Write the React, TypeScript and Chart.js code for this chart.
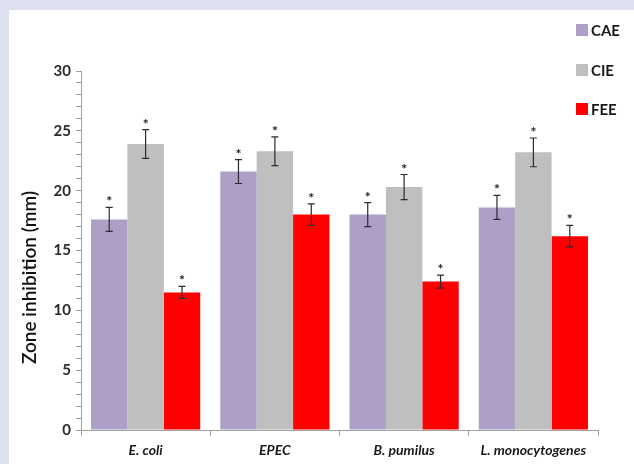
import React, { useEffect, useRef } from "react";
import { Chart, registerables } from "chart.js";

Chart.register(...registerables);

const categories = ["E. coli", "EPEC", "B. pumilus", "L. monocytogenes"];
const seriesNames = ["CAE", "CIE", "FEE"];
const caeValues = [17.6, 21.6, 18.0, 18.6];
const cieValues = [23.9, 23.3, 20.3, 23.2];
const feeValues = [11.5, 18.0, 12.4, 16.2];
const caeErrors = [1.0, 1.0, 1.0, 1.0];
const cieErrors = [1.2, 1.2, 1.05, 1.2];
const feeErrors = [0.5, 0.9, 0.55, 0.9];
const seriesColors = ["#ae9fc7", "#bfbfbf", "#ff0000"];
const yTicksMajor = [0, 5, 10, 15, 20, 25, 30];
const yTitle = "Zone inhibition (mm)";
const FONT = "Lato, 'Open Sans', sans-serif";

const errorsBySeries = [caeErrors, cieErrors, feeErrors];

const errorBarPlugin = {
  id: "errorBars",
  afterDatasetsDraw(chart: any) {
    const ctx = chart.ctx;
    const yScale = chart.scales.y;
    chart.data.datasets.forEach((ds: any, di: number) => {
      const meta = chart.getDatasetMeta(di);
      meta.data.forEach((bar: any, i: number) => {
        const v = ds.data[i];
        const e = errorsBySeries[di][i];
        const x = bar.x;
        const yTop = yScale.getPixelForValue(v + e);
        const yBot = yScale.getPixelForValue(v - e);
        ctx.save();
        ctx.strokeStyle = "#2e2a33";
        ctx.lineWidth = 1.2;
        ctx.beginPath();
        ctx.moveTo(x, yTop);
        ctx.lineTo(x, yBot);
        ctx.moveTo(x - 3.5, yTop);
        ctx.lineTo(x + 3.5, yTop);
        ctx.moveTo(x - 3.5, yBot);
        ctx.lineTo(x + 3.5, yBot);
        ctx.stroke();
        ctx.fillStyle = "#222";
        ctx.font = `bold 14px ${FONT}`;
        ctx.textAlign = "center";
        ctx.textBaseline = "alphabetic";
        ctx.fillText("*", x, yTop - 1);
        ctx.restore();
      });
    });
  },
};

const legendAndTitlePlugin = {
  id: "customLegendTitle",
  afterDraw(chart: any) {
    const ctx = chart.ctx;
    const area = chart.chartArea;
    ctx.save();
    const lx = chart.width - 58;
    const ys = [30, 70, 109];
    chart.data.datasets.forEach((ds: any, di: number) => {
      const cy = ys[di];
      ctx.fillStyle = ds.backgroundColor;
      ctx.fillRect(lx, cy - 6, 12, 12);
      ctx.fillStyle = "#1a1a1a";
      ctx.font = `bold 15px ${FONT}`;
      ctx.textAlign = "left";
      ctx.textBaseline = "middle";
      ctx.fillText(ds.label, lx + 15, cy + 1);
    });
    ctx.translate(30, (area.top + area.bottom) / 2 + 27);
    ctx.rotate(-Math.PI / 2);
    ctx.fillStyle = "#111";
    ctx.font = `600 19px ${FONT}`;
    ctx.textAlign = "center";
    ctx.textBaseline = "middle";
    ctx.fillText(yTitle, 0, 0);
    ctx.restore();
  },
};

export default function App() {
  const canvasRef = useRef<HTMLCanvasElement | null>(null);

  useEffect(() => {
    document.body.style.margin = "0";
    const canvas = canvasRef.current;
    if (!canvas) return;
    const chart = new Chart(canvas, {
      type: "bar",
      data: {
        labels: categories,
        datasets: [caeValues, cieValues, feeValues].map((vals, i) => ({
          label: seriesNames[i],
          data: vals,
          backgroundColor: seriesColors[i],
          borderWidth: 0,
          categoryPercentage: 0.845,
          barPercentage: 1.0,
        })),
      },
      options: {
        animation: false,
        responsive: false,
        maintainAspectRatio: false,
        layout: { padding: { left: 8, right: 36, top: 71, bottom: 0 } },
        plugins: {
          legend: { display: false },
          tooltip: { enabled: false },
        },
        scales: {
          x: {
            grid: {
              offset: true,
              drawOnChartArea: false,
              drawTicks: true,
              tickLength: 6,
              color: "#a0a0a0",
            },
            border: { display: true, color: "#a0a0a0", width: 1 },
            ticks: {
              color: "#1a1a1a",
              font: { family: FONT, size: 14, weight: "bold", style: "italic" },
              padding: 6,
            },
            afterFit(scale: any) {
              scale.height = 34;
            },
          },
          y: {
            min: 0,
            max: 30,
            grid: {
              drawOnChartArea: false,
              drawTicks: true,
              tickLength: 5,
              color: "#a0a0a0",
            },
            border: { display: true, color: "#a0a0a0", width: 1 },
            ticks: {
              stepSize: 1,
              autoSkip: false,
              color: "#2a2a2a",
              font: { family: FONT, size: 15, weight: "bold" },
              padding: 5,
              callback: (v: any) => (yTicksMajor.includes(Number(v)) ? String(v) : ""),
            },
            afterFit(scale: any) {
              scale.width = 73;
            },
          },
        },
      },
      plugins: [errorBarPlugin, legendAndTitlePlugin],
    });
    return () => chart.destroy();
  }, []);

  return (
    <div style={{ position: "relative", width: 634, height: 464, background: "#dde1ef", overflow: "hidden" }}>
      <div style={{ position: "absolute", left: 9, top: 10, width: 625, height: 454, background: "#ffffff" }} />
      <canvas ref={canvasRef} width={634} height={464} style={{ position: "absolute", left: 0, top: 0, width: 634, height: 464 }} />
    </div>
  );
}
